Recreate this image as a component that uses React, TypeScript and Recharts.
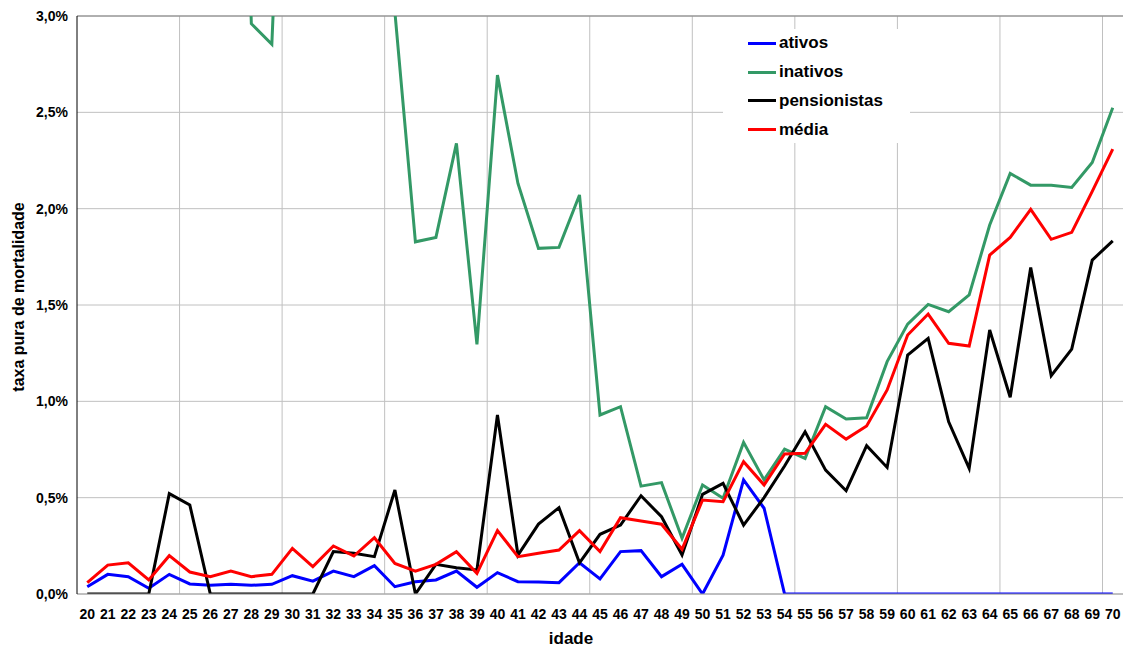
import { CartesianGrid, Legend, Line, LineChart, ReferenceLine, XAxis, YAxis } from 'recharts'

// taxa pura de mortalidade (%) por idade
const ages = [
  20, 21, 22, 23, 24, 25, 26, 27, 28, 29, 30, 31, 32, 33, 34, 35, 36, 37, 38, 39, 40, 41, 42, 43, 44, 45,
  46, 47, 48, 49, 50, 51, 52, 53, 54, 55, 56, 57, 58, 59, 60, 61, 62, 63, 64, 65, 66, 67, 68, 69, 70,
]

const ativos = [
  0.038, 0.102, 0.09, 0.03, 0.102, 0.052, 0.045, 0.05, 0.045, 0.05, 0.095, 0.067, 0.119, 0.09, 0.147,
  0.038, 0.064, 0.073, 0.119, 0.035, 0.111, 0.064, 0.062, 0.059, 0.162, 0.078, 0.22, 0.225, 0.09, 0.154,
  0.0, 0.202, 0.592, 0.445, 0, 0, 0, 0, 0, 0, 0, 0, 0, 0, 0, 0, 0, 0, 0, 0, 0,
]

// ages 20-27 and 30-34 run off the top of the chart; values there are estimates
const inativos = [
  5.2, 4.6, 6.1, 5.5, 4.8, 7.0, 5.9, 6.3, 2.96, 2.853, 5.4, 6.8, 4.9, 5.6, 4.7, 3.02, 1.828, 1.851, 2.339,
  1.296, 2.693, 2.131, 1.794, 1.799, 2.071, 0.929, 0.972, 0.56, 0.578, 0.289, 0.566, 0.497, 0.787, 0.592,
  0.752, 0.704, 0.972, 0.908, 0.915, 1.206, 1.401, 1.503, 1.465, 1.552, 1.915, 2.183, 2.122, 2.122, 2.11,
  2.24, 2.524,
]

const pensionistas = [
  0, 0, 0, 0, 0.521, 0.462, 0, 0, 0, 0, 0, 0, 0.22, 0.211, 0.194, 0.54, 0, 0.154, 0.136, 0.125, 0.929,
  0.202, 0.363, 0.448, 0.162, 0.31, 0.358, 0.51, 0.401, 0.202, 0.517, 0.574, 0.358, 0.5, 0.664, 0.842,
  0.643, 0.536, 0.77, 0.657, 1.24, 1.327, 0.894, 0.652, 1.37, 1.021, 1.695, 1.133, 1.271, 1.733, 1.833,
]

const media = [
  0.059, 0.15, 0.162, 0.073, 0.199, 0.114, 0.09, 0.119, 0.09, 0.102, 0.237, 0.142, 0.249, 0.197, 0.292,
  0.159, 0.119, 0.154, 0.22, 0.107, 0.329, 0.194, 0.211, 0.228, 0.329, 0.22, 0.396, 0.379, 0.362, 0.232,
  0.488, 0.479, 0.687, 0.566, 0.727, 0.73, 0.881, 0.804, 0.872, 1.059, 1.344, 1.453, 1.301, 1.287, 1.759,
  1.851, 1.996, 1.841, 1.877, 2.09, 2.309,
]

const seriesNames = ['ativos', 'inativos', 'pensionistas', 'média']
const yTicks = [0, 0.5, 1, 1.5, 2, 2.5, 3]
// vertical gridlines sit between categories, every 5 ages
const gridAges = [24.5, 29.5, 34.5, 39.5, 44.5, 49.5, 54.5, 59.5, 64.5, 69.5]

const data = ages.map((age, i) => ({
  age,
  ativos: ativos[i],
  inativos: inativos[i],
  pensionistas: pensionistas[i],
  media: media[i],
}))

const FONT = '"Liberation Sans", Arial, sans-serif'

const fmtPct = (v: number) => `${v.toFixed(1).replace('.', ',')}%`

function LegendBox({ payload }: any) {
  const items = [...(payload || [])].sort(
    (a: any, b: any) => seriesNames.indexOf(a.value) - seriesNames.indexOf(b.value),
  )
  return (
    <div
      style={{
        background: '#fff',
        width: 187,
        height: 114,
        boxSizing: 'border-box',
        paddingLeft: 25,
        fontFamily: FONT,
      }}
    >
      {items.map((p: any) => (
        <div key={p.value} style={{ display: 'flex', alignItems: 'center', height: 28.8 }}>
          <span style={{ display: 'inline-block', width: 28, height: 3, background: p.color, marginRight: 3 }} />
          <span style={{ fontSize: 17, fontWeight: 'bold', color: '#000' }}>{p.value}</span>
        </div>
      ))}
    </div>
  )
}

function YTitle({ viewBox }: any) {
  const cx = viewBox.x + 18
  const cy = viewBox.y + viewBox.height / 2 - 8
  return (
    <text
      x={cx}
      y={cy}
      transform={`rotate(-90, ${cx}, ${cy})`}
      textAnchor="middle"
      dominantBaseline="central"
      fontFamily={FONT}
      fontSize={16}
      fontWeight="bold"
      fill="#000"
    >
      taxa pura de mortalidade
    </text>
  )
}

function XTitle({ viewBox }: any) {
  return (
    <text
      x={viewBox.x + viewBox.width / 2 - 29}
      y={viewBox.y + viewBox.height - 3}
      textAnchor="middle"
      fontFamily={FONT}
      fontSize={17}
      fontWeight="bold"
      fill="#000"
    >
      idade
    </text>
  )
}

export default function App() {
  return (
    <div style={{ position: 'absolute', left: 0, top: 0 }}>
      <LineChart width={1123} height={647} data={data} margin={{ top: 16, right: 0, bottom: 0, left: 0 }}>
        <CartesianGrid stroke="#c0c0c0" verticalValues={gridAges} />
        <XAxis
          dataKey="age"
          type="number"
          domain={[19.5, 70.5]}
          ticks={ages}
          interval={0}
          height={53}
          tickLine={false}
          tickSize={0}
          tickMargin={15}
          axisLine={{ stroke: '#a0a0a0' }}
          tick={{ fontFamily: FONT, fontSize: 14, fontWeight: 'bold', fill: '#000' }}
          label={{ content: XTitle }}
        />
        <YAxis
          type="number"
          domain={[0, 3]}
          ticks={yTicks}
          allowDataOverflow
          width={77}
          tickLine={false}
          tickSize={0}
          tickMargin={9}
          axisLine={{ stroke: '#000' }}
          tickFormatter={fmtPct}
          tick={{ fontFamily: FONT, fontSize: 14, fontWeight: 'bold', fill: '#000' }}
          label={{ content: YTitle }}
        />
        <ReferenceLine y={3} stroke="#808080" />
        <Legend
          layout="horizontal"
          verticalAlign="middle"
          align="center"
          content={LegendBox}
          wrapperStyle={{ left: 723, top: 29, width: 187, height: 114 }}
        />
        <Line dataKey="ativos" name="ativos" stroke="#0000ff" strokeWidth={3} dot={false} isAnimationActive={false} />
        <Line dataKey="inativos" name="inativos" stroke="#339966" strokeWidth={3} dot={false} isAnimationActive={false} />
        <Line
          dataKey="pensionistas"
          name="pensionistas"
          stroke="#000000"
          strokeWidth={3}
          dot={false}
          isAnimationActive={false}
        />
        <Line dataKey="media" name="média" stroke="#ff0000" strokeWidth={3} dot={false} isAnimationActive={false} />
      </LineChart>
    </div>
  )
}
